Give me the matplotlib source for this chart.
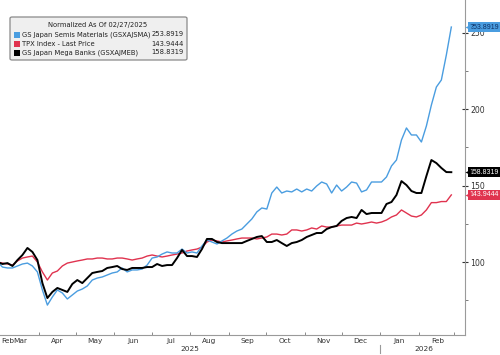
import matplotlib
matplotlib.use("Agg")
import matplotlib.pyplot as plt
import matplotlib.transforms as mtransforms
from matplotlib.patches import FancyBboxPatch, Rectangle
import pandas as pd

plt.rcParams['font.family'] = ['DejaVu Sans']

start_date = "2025-02-27"
end_date = "2026-02-27"
n_points = 92

semis = [100, 96.7, 96.1, 96.1, 97.4, 98.7, 99.3, 97.4, 93.5, 81.7,
         71.8, 77.1, 81.7, 79.7, 75.8, 78.4, 81.0, 82.3, 84.3, 88.2,
         89.5, 90.2, 91.5, 92.8, 93.5, 96.1, 93.5, 94.8, 94.8, 95.4,
         98.0, 102.6, 103.3, 105.2, 106.6, 105.9, 105.9, 108.5, 105.9, 106.6,
         105.9, 110.5, 114.4, 113.1, 111.8, 113.8, 115.7, 118.3, 120.3, 121.6,
         124.9, 128.2, 132.8, 135.4, 134.7, 145.2, 149.1, 145.2, 146.5, 145.9,
         147.8, 145.9, 147.8, 146.5, 149.8, 152.4, 151.1, 145.2, 150.4, 146.5,
         149.1, 152.4, 151.7, 145.9, 147.2, 152.4, 152.4, 152.4, 155.7, 162.9,
         166.8, 179.9, 187.8, 183.2, 183.2, 178.6, 189.1, 202.8, 214.6, 219.2,
         235.6, 253.8919]

tpx = [100, 99.3, 98.7, 98.0, 100.7, 102.6, 103.3, 103.9, 100.0, 93.5,
       88.2, 92.8, 94.1, 97.4, 99.3, 100.0, 100.7, 101.3, 102.0, 102.0,
       102.6, 102.6, 102.0, 102.0, 102.6, 102.6, 102.0, 101.3, 102.0, 102.6,
       103.9, 104.6, 103.9, 103.3, 103.9, 104.6, 105.2, 105.9, 107.2, 107.9,
       108.5, 109.8, 113.1, 114.4, 113.8, 113.1, 113.8, 114.4, 115.1, 115.7,
       115.7, 115.7, 115.1, 115.7, 116.4, 118.3, 118.3, 117.7, 118.3, 121.0,
       121.0, 120.3, 121.0, 122.3, 121.6, 123.6, 122.9, 122.9, 123.6, 124.2,
       124.2, 124.2, 125.5, 124.9, 125.5, 126.2, 125.5, 126.2, 127.5, 129.5,
       130.8, 134.1, 132.1, 130.1, 129.5, 130.8, 134.1, 138.9, 138.9, 139.6,
       139.6, 143.9444]

banks = [100, 98.7, 99.3, 97.4, 101.3, 104.6, 109.2, 106.6, 101.3, 86.2,
         76.4, 80.4, 83.0, 81.7, 80.4, 85.6, 88.2, 86.2, 89.5, 92.8,
         93.5, 94.1, 96.1, 96.7, 97.4, 95.4, 94.8, 96.1, 96.1, 96.1,
         96.7, 96.7, 98.7, 97.4, 98.0, 98.0, 102.6, 107.9, 103.9, 103.9,
         103.3, 108.5, 115.1, 115.1, 113.1, 112.4, 112.4, 112.4, 112.4, 112.4,
         113.8, 115.1, 116.4, 117.0, 113.1, 113.1, 114.4, 112.4, 110.5, 112.4,
         113.1, 114.4, 116.4, 117.7, 119.0, 119.0, 121.6, 122.9, 123.6, 126.9,
         128.8, 129.5, 128.8, 134.1, 131.4, 132.1, 132.1, 132.1, 138.0, 139.3,
         143.9, 153.0, 150.4, 146.5, 145.2, 145.2, 156.3, 166.8, 164.8, 161.6,
         158.9, 158.8319]

series_names = ["GS Japan Semis Materials (GSXAJSMA)", "TPX Index - Last Price",
                "GS Japan Mega Banks (GSXAJMEB)"]
series_last = ["253.8919", "143.9444", "158.8319"]
legend_title = "Normalized As Of 02/27/2025"

month_labels = ["Mar", "Apr", "May", "Jun", "Jul", "Aug", "Sep", "Oct", "Nov",
                "Dec", "Jan", "Feb"]
year_labels = ["2025", "2026"]

dates = pd.date_range(start_date, end_date, periods=n_points)

BLUE = "#4a9de0"
RED = "#e0334f"
BLACK = "#000000"
colors = [BLUE, RED, BLACK]
TXT = "#333333"
FS = 5.3

W, H = 500, 355
fig = plt.figure(figsize=(W / 100, H / 100), dpi=100)
ax = fig.add_axes([0, 20 / H, 465 / W, 335 / H])

ax.plot(dates, tpx, color=RED, lw=1.0, zorder=3)
ax.plot(dates, semis, color=BLUE, lw=1.0, zorder=3)
ax.plot(dates, banks, color=BLACK, lw=1.4, zorder=4)

ax.set_xlim(pd.Timestamp("2025-03-01"), pd.Timestamp("2026-03-10"))
ax.set_ylim(52.2, 271.6)

for s in ["left", "top"]:
    ax.spines[s].set_visible(False)
for s in ["right", "bottom"]:
    ax.spines[s].set_color("#9a9a9a")
    ax.spines[s].set_linewidth(0.8)

# y axis on right
ax.yaxis.tick_right()
ax.set_yticks([100, 150, 200, 250])
ax.set_yticks([75, 125, 175, 225], minor=True)
ax.tick_params(axis="y", which="major", direction="inout", length=4, width=0.8,
               color="#333333", labelsize=FS + 0.3, labelcolor=TXT, pad=2)
ax.tick_params(axis="y", which="minor", direction="out", length=2, width=0.6,
               color="#666666")

# x axis: ticks at month starts, labels mid-month
month_starts = pd.date_range("2025-04-01", "2026-03-01", freq="MS")
ax.set_xticks(month_starts)
ax.set_xticklabels([])
mid_dates = [pd.Timestamp("2025-03-17")] + [d + pd.Timedelta(days=15) for d in month_starts[:-1]]
ax.set_xticks(mid_dates, minor=True)
ax.set_xticklabels(month_labels, minor=True)
ax.tick_params(axis="x", which="major", direction="in", length=2.5, width=0.6,
               color="#777777")
ax.tick_params(axis="x", which="minor", length=0, labelsize=FS,
               labelcolor=TXT, pad=2.5)
ax.text(0.002, -0.019, "Feb", transform=ax.transAxes, ha="left", va="center",
        fontsize=FS, color=TXT)

trans = mtransforms.blended_transform_factory(ax.transData, ax.transAxes)
ax.text(pd.Timestamp("2025-08-01"), -0.043, year_labels[0], transform=trans,
        ha="center", va="center", fontsize=FS, color=TXT)
ax.text(pd.Timestamp("2026-02-05"), -0.043, year_labels[1], transform=trans,
        ha="center", va="center", fontsize=FS, color=TXT)
jan = pd.Timestamp("2026-01-01")
ax.plot([jan, jan], [-0.03, -0.055], transform=trans, color="#999999",
        lw=0.8, clip_on=False)

# right-edge value tags
ytrans = mtransforms.blended_transform_factory(ax.transAxes, ax.transData)
tag_vals = [semis[-1], tpx[-1], banks[-1]]
tag_text_colors = ["#0d2f63", "white", "white"]
for val, txt, c, tc in zip(tag_vals, series_last, colors, tag_text_colors):
    ax.text(1.0095, val, txt, transform=ytrans, ha="left", va="center",
            fontsize=5.0, family="Liberation Sans", color=tc, zorder=10,
            clip_on=False,
            bbox=dict(boxstyle="square,pad=0.2", fc=c, ec="none"))
    ax.plot([1.006], [val], marker="<", ms=4.5, color=c, mec="none",
            transform=ytrans, clip_on=False, zorder=10)

# legend box
def fx(px):
    return px / W

def fy(py):
    return 1 - py / H

box = FancyBboxPatch((fx(10), fy(60)), fx(187) - fx(10), fy(17) - fy(60),
                     boxstyle="round,pad=0,rounding_size=0.004",
                     transform=fig.transFigure, fc="#efefef", ec="#8a8a8a",
                     lw=0.9, zorder=20)
fig.add_artist(box)
fig.text(fx(98), fy(25.5), legend_title, ha="center", va="center",
         fontsize=4.9, color="#222222", zorder=21)
for k, (name, last, c) in enumerate(zip(series_names, series_last, colors)):
    yy = 34.5 + 9 * k
    fig.add_artist(Rectangle((fx(14), fy(yy + 3)), fx(6), fy(0) - fy(6),
                             transform=fig.transFigure, fc=c, ec="none", zorder=21))
    fig.text(fx(22.5), fy(yy), name, ha="left", va="center", fontsize=4.9,
             color="#222222", zorder=21)
    fig.text(fx(184), fy(yy), last, ha="right", va="center", fontsize=4.9,
             color="#222222", zorder=21)

fig.savefig("out.png", dpi=100, facecolor="white")
